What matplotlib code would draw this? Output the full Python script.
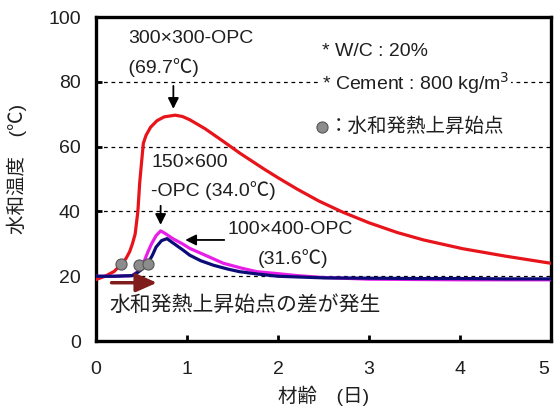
import numpy as np
import matplotlib.pyplot as plt
from matplotlib.transforms import ScaledTranslation

plt.rcParams['font.family'] = ['Liberation Sans', 'Noto Sans CJK JP', 'DejaVu Sans']

# 材齢 (日) vs 水和温度 (℃)
age_300 = [0, 0.1, 0.2, 0.28, 0.33, 0.37, 0.40, 0.43, 0.46, 0.48, 0.50, 0.52, 0.55,
           0.60, 0.67, 0.75, 0.87, 0.95, 1.03, 1.2, 1.4, 1.58, 1.84, 2.0, 2.21,
           2.45, 2.71, 3.0, 3.31, 3.6, 4.03, 4.5, 5.0]
temp_300 = [19.0, 20.0, 21.5, 23.8, 25.5, 27.6, 30.0, 33.0, 40.0, 48.8, 55.0, 61.0, 63.5,
            66.0, 68.0, 69.2, 69.7, 69.3, 68.3, 65.5, 61.6, 58.0, 53.2, 50.4, 46.9,
            43.2, 39.8, 36.5, 33.5, 31.2, 28.5, 26.2, 24.0]

age_150 = [0, 0.2, 0.4, 0.46, 0.52, 0.57, 0.61, 0.66, 0.71, 0.76, 0.85, 0.95, 1.03,
           1.2, 1.4, 1.6, 1.77, 2.0, 2.21, 2.5, 3.0, 3.5, 4.0, 4.5, 5.0]
temp_150 = [20.0, 20.0, 20.2, 21.5, 24.0, 27.5, 30.0, 32.5, 34.0, 33.2, 31.5, 30.0, 28.6,
            26.5, 24.0, 22.5, 21.4, 20.8, 20.2, 19.6, 19.1, 19.0, 18.9, 18.9, 18.9]

age_100 = [0, 0.2, 0.4, 0.46, 0.52, 0.57, 0.62, 0.66, 0.72, 0.78, 0.85, 0.96, 1.03,
           1.15, 1.29, 1.45, 1.58, 1.77, 2.0, 2.5, 3.0, 3.5, 4.0, 4.5, 5.0]
temp_100 = [20.0, 20.0, 20.2, 21.2, 22.5, 24.0, 26.5, 29.0, 31.0, 31.6, 30.2, 28.0, 26.5,
            24.8, 23.4, 22.2, 21.4, 20.7, 20.0, 19.5, 19.4, 19.3, 19.3, 19.2, 19.2]

# 水和発熱上昇始点
onset_age = [0.28, 0.47, 0.57]
onset_temp = [23.8, 23.4, 23.8]

txt = '#1f1f1f'
fig = plt.figure(figsize=(5.54, 4.19), dpi=100)
ax = fig.add_axes([0.1733, 0.186, 0.8213, 0.7734])

ax.plot(age_300, temp_300, color='#e8141b', lw=2.3, zorder=4)
ax.plot(age_150, temp_150, color='#e81ee8', lw=2.3, zorder=4)
ax.plot(age_100, temp_100, color='#0c0c78', lw=2.3, zorder=5)
ax.plot(onset_age, onset_temp, 'o', ms=8, mfc='#8c8c8c', mec='#555555', mew=0.8, zorder=6)

ax.set_xlim(0, 5)
ax.set_ylim(0, 100)
ax.set_xticks(np.arange(0, 6, 1))
ax.set_yticks(np.arange(0, 101, 20))
ax.yaxis.grid(True, ls=(0, (3, 3)), color='black', lw=0.9)
ax.set_axisbelow(True)
ax.tick_params(direction='in', length=4, width=2, labelsize=14, labelcolor=txt)
ax.tick_params(axis='x', pad=14)
ax.tick_params(axis='y', pad=11)
for s in ax.spines.values():
    s.set_linewidth(2.4)

# keep the last x label inside the figure
last = ax.xaxis.get_major_ticks()[-1].label1
last.set_transform(last.get_transform() + ScaledTranslation(-5 / 72, 0, fig.dpi_scale_trans))

ax.set_xlabel('材齢　(日)', fontsize=14, color=txt, labelpad=6)
ax.set_ylabel('水和温度　(℃)', fontsize=14, color=txt)
ax.yaxis.set_label_coords(-0.152, 0.53)

white = dict(facecolor='white', edgecolor='none', pad=1)
fs = 14
arrow = dict(arrowstyle='-|>', color='black', lw=1.3, mutation_scale=16)

# 300×300 peak
ax.text(0.35, 93.5, '300×300-OPC', fontsize=fs, color=txt, va='center', zorder=7)
ax.text(0.30, 84.5, ' (69.7℃)        ', fontsize=fs, color=txt, va='center', zorder=7,
        bbox=dict(facecolor='white', edgecolor='none', pad=3))
ax.annotate('', xy=(0.85, 70.8), xytext=(0.85, 79.6), arrowprops=arrow, zorder=8)

# 150×600 peak
ax.text(0.61, 55.0, '150×600', fontsize=fs, color=txt, va='center', zorder=7)
ax.text(0.60, 46.6, '-OPC (34.0℃)', fontsize=fs, color=txt, va='center', zorder=7)
ax.annotate('', xy=(0.71, 35.0), xytext=(0.71, 42.6), arrowprops=arrow, zorder=8)

# 100×400 peak
ax.text(1.45, 34.3, '100×400-OPC', fontsize=fs, color=txt, va='center', zorder=7)
ax.text(1.78, 25.6, '(31.6℃)', fontsize=fs, color=txt, va='center', zorder=7)
ax.annotate('', xy=(0.95, 31.2), xytext=(1.44, 31.2), arrowprops=arrow, zorder=8)

# conditions
ax.text(2.48, 89.3, '* W/C : 20%', fontsize=fs, color=txt, va='center', zorder=7)
ax.text(2.48, 79.5, '* Cement : 800 kg/m$^3$', fontsize=fs, color=txt, va='center', zorder=7,
        bbox=white)
ax.plot([2.48], [66.0], 'o', ms=8, mfc='#8c8c8c', mec='#555555', mew=0.8, zorder=7)
ax.text(2.56, 66.0, '：水和発熱上昇始点', fontsize=fs, color=txt, va='center', zorder=7)

# onset difference
ax.annotate('', xy=(0.70, 18.0), xytext=(0.14, 18.0),
            arrowprops=dict(arrowstyle='-|>,head_width=0.4,head_length=0.9',
                            color='#7f1d1d', lw=2.5, mutation_scale=14), zorder=8)
ax.text(0.15, 11.0, '水和発熱上昇始点の差が発生', fontsize=15, color=txt, va='center', zorder=7)

fig.savefig('out.png', dpi=100)
